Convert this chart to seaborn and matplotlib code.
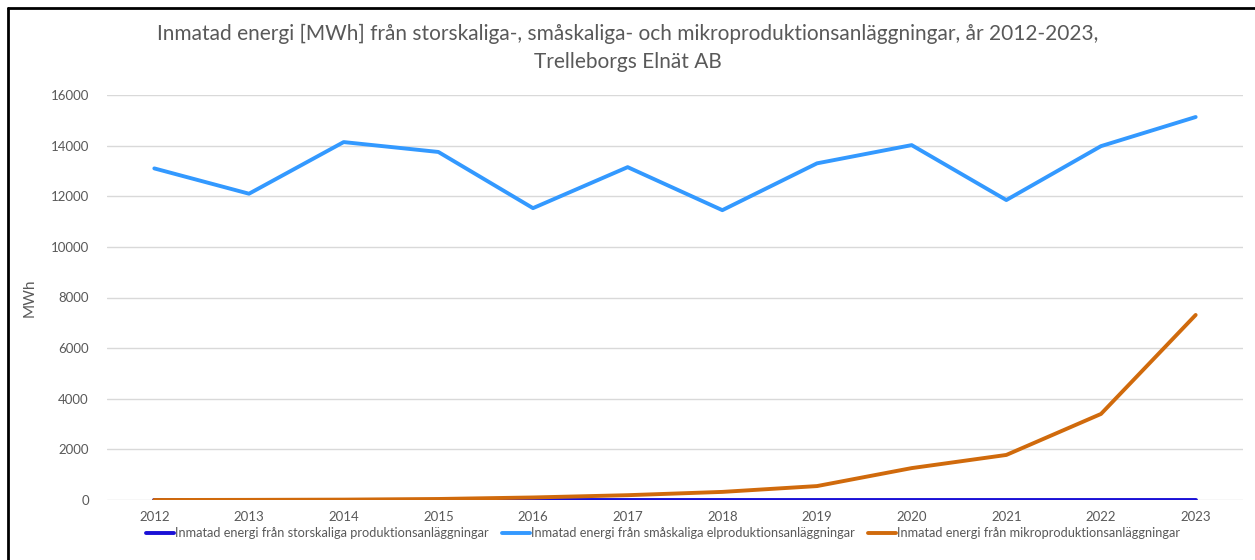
import pandas as pd
import numpy as np
import matplotlib.pyplot as plt
import seaborn as sns
from matplotlib.lines import Line2D

# data
years = ['2012', '2013', '2014', '2015', '2016', '2017', '2018', '2019', '2020', '2021', '2022', '2023']
storskaliga = [0, 0, 0, 0, 0, 0, 0, 0, 0, 0, 0, 0]
smaskaliga = [13100, 12100, 14140, 13750, 11530, 13150, 11450, 13300, 14020, 11850, 13980, 15130]
mikro = [0, 5, 15, 40, 100, 190, 320, 550, 1260, 1780, 3400, 7310]

series_names = ['Inmatad energi från storskaliga produktionsanläggningar',
                'Inmatad energi från småskaliga elproduktionsanläggningar',
                'Inmatad energi från mikroproduktionsanläggningar']
colors = ['#1a10d6', '#3399ff', '#d06a0c']

df = pd.DataFrame({
    'År': years * 3,
    'MWh': storskaliga + smaskaliga + mikro,
    'Serie': [series_names[0]] * 12 + [series_names[1]] * 12 + [series_names[2]] * 12,
})

sns.set_style('white')
plt.rcParams['font.family'] = ['Lato', 'DejaVu Sans']

fig = plt.figure(figsize=(12.55, 5.6), dpi=100)
ax = fig.add_axes([107 / 1255, 1 - 500 / 560, (1243 - 107) / 1255, 405 / 560])

sns.lineplot(data=df, x='År', y='MWh', hue='Serie', hue_order=series_names,
             palette=dict(zip(series_names, colors)), linewidth=2.8, sort=False,
             legend=False, ax=ax)

ax.set_ylim(0, 16000)
ax.set_xlim(-0.5, len(years) - 0.5)
ax.set_yticks(np.arange(0, 16001, 2000))
ax.yaxis.grid(True, color='#d9d9d9', linewidth=1)
ax.set_axisbelow(True)
for s in ax.spines.values():
    s.set_visible(False)
ax.tick_params(axis='both', length=0, labelsize=9.5, labelcolor='#595959', pad=8)
ax.tick_params(axis='y', pad=13)
ax.set_xlabel('')
ax.set_ylabel('MWh', fontsize=11, color='#595959', labelpad=10)

fig.suptitle('Inmatad energi [MWh] från storskaliga-, småskaliga- och mikroproduktionsanläggningar, år 2012-2023,\nTrelleborgs Elnät AB',
             y=0.958, fontsize=15, color='#595959', linespacing=1.55)

handles = [Line2D([0], [0], color=c, lw=2.8) for c in colors]
fig.legend(handles, series_names, loc='center', bbox_to_anchor=(663 / 1255, 1 - 533 / 560),
           ncol=3, frameon=False, fontsize=9.2, labelcolor='#595959',
           handlelength=2.2, handletextpad=0.1, columnspacing=1.0)

# outer frame (left/top border of the captured chart)
fig.add_artist(Line2D([8 / 1255, 8 / 1255], [0, 1 - 8 / 560], color='black', lw=2, transform=fig.transFigure))
fig.add_artist(Line2D([8 / 1255, 1], [1 - 8 / 560, 1 - 8 / 560], color='black', lw=2, transform=fig.transFigure))

fig.savefig('out.png', dpi=100)
plt.close()
